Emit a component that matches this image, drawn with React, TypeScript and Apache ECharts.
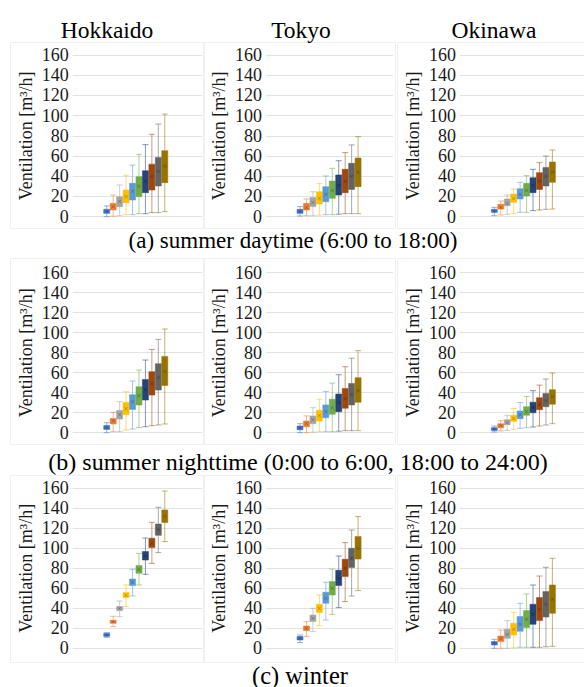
import React, { useEffect, useRef } from 'react';
import * as echarts from 'echarts';

const FONT = 'Liberation Serif';

const regions = ['Hokkaido', 'Tokyo', 'Okinawa'];
const captions = [
  '(a) summer daytime (6:00 to 18:00)',
  '(b) summer nighttime (0:00 to 6:00, 18:00 to 24:00)',
  '(c) winter',
];
const yAxisName = 'Ventilation [m³/h]';
const categories = ['1', '2', '3', '4', '5', '6', '7', '8', '9', '10'];
const boxColors = ['#4472C4', '#ED7D31', '#A5A5A5', '#FFC000', '#5B9BD5', '#70AD47', '#264478', '#9E480E', '#636363', '#997300'];

// [min, Q1, median, Q3, max]
const summerDayHokkaido = [
  [0, 3.3, 5, 7.3, 10.6], [0.5, 6.6, 10, 13.2, 21.5], [1, 9.9, 15, 19.8, 31.4], [2, 13.9, 20, 26.4, 41],
  [2, 16.5, 25, 33, 51], [3, 19.8, 30, 39.6, 61.7], [3, 23.8, 35, 45.5, 71.3], [4, 26.4, 40, 52, 81.5],
  [4, 30.4, 45, 58.7, 91.7], [5, 33.7, 50, 65.3, 101.6],
];
const summerDayTokyo = [
  [0.7, 3.3, 5, 7.3, 10], [1, 6.6, 9, 13.2, 17.5], [1, 10, 14, 19, 24.7], [1.5, 12.5, 18, 24.7, 33],
  [2, 14.9, 22, 29.7, 40.3], [2, 18.2, 26, 35.3, 47.9], [2.5, 21.5, 31, 41.3, 55.4], [3, 23.8, 35, 46.9, 63.4],
  [3, 27, 40, 52.8, 71], [3, 29.7, 44, 58, 79.2],
];
const summerDayOkinawa = [
  [1, 4.3, 5, 7.3, 9.2], [1.7, 7.6, 9, 12.2, 15.5], [2.3, 10.9, 13, 17.5, 21.5], [3.3, 14.2, 18, 22.4, 27.4],
  [4.3, 17.5, 22, 27.7, 34], [4.3, 20.5, 26, 33, 40.6], [6, 23.8, 31, 38.6, 46.9], [6.6, 27, 35, 43.6, 53.5],
  [7.3, 30.4, 40, 48.8, 60], [7.6, 34, 44, 54.1, 66],
];
const summerNightHokkaido = [
  [0, 3.3, 5.5, 7.3, 10], [1, 8.7, 12, 14.3, 20.3], [1, 13.7, 18, 22.3, 31], [2.7, 18.3, 24, 30.3, 41],
  [3.7, 23.3, 31, 38, 51.7], [5, 27.7, 37, 46, 62.7], [6, 32.7, 43, 53.3, 72.7], [7, 37.7, 49, 61, 83.3],
  [7.7, 42.7, 55, 69, 93.3], [8.7, 47.3, 61, 76.3, 103.7],
];
const summerNightTokyo = [
  [0, 3, 4.5, 6.7, 9], [0, 6, 9, 11.7, 16.8], [0.5, 9, 13, 16.8, 25], [1, 11.7, 17, 22.5, 33.5],
  [1, 15, 21, 27.8, 41.3], [1, 18.5, 25, 33.5, 49.6], [1.5, 21, 30, 38.6, 58], [2, 24.5, 34, 44.3, 66],
  [2, 27.8, 38, 49.3, 74.5], [2, 30.5, 42, 55, 82],
];
const summerNightOkinawa = [
  [0.7, 2.3, 3.7, 5, 6.7], [1.7, 5, 7, 9, 12], [2.3, 8, 10, 13, 17.5], [3.3, 11.4, 14, 17.5, 24.2],
  [4.4, 14, 18, 21.8, 30.2], [5, 17.5, 21, 26, 36.2], [5.7, 20, 25, 30.5, 42], [6.7, 23, 28, 35, 47.6],
  [7.7, 26, 32, 39.3, 53.7], [9, 28.5, 36, 43, 59.7],
];
const winterHokkaido = [
  [11, 12, 13.3, 14.7, 15.7], [21.7, 25, 26.5, 28, 32], [31.7, 37.7, 40, 41.7, 47.3], [41.7, 50.7, 53, 55.7, 63.3],
  [52.3, 62.7, 66, 69.3, 79], [63.3, 75, 79, 82.7, 95], [74, 88.3, 92, 96.7, 110.3], [85, 100.7, 105, 110, 126],
  [95.7, 113, 119, 124.3, 141], [106.7, 125.7, 132, 138.3, 157.3],
];
const winterTokyo = [
  [5.7, 8.3, 10, 11.7, 13.3], [11.7, 17.7, 20, 22.3, 26.7], [16.7, 26.7, 30, 33.3, 40], [22.7, 35.7, 40, 44, 53.3],
  [28.3, 45, 50, 56, 66], [34, 53.3, 60, 66.7, 79.3], [40.7, 62.7, 70, 78, 92.3], [46.7, 71.7, 80, 89, 105.7],
  [52.3, 80.7, 90, 100, 118.3], [57.7, 89.3, 100, 111.7, 131.7],
];
const winterOkinawa = [
  [0, 3.3, 5, 6.7, 9], [0, 6.7, 9.5, 12.3, 18.3], [0, 10, 14, 19, 27.7], [0.5, 13.3, 19, 25, 36],
  [1, 17, 24, 31.7, 45], [1, 20.7, 29, 37.7, 54.3], [1, 24, 34, 44, 63.3], [1, 27.7, 39, 50.7, 72.3],
  [1.5, 31.3, 44, 56.7, 81], [2, 35, 49, 63.3, 90],
];

const panelData = [
  [summerDayHokkaido, summerDayTokyo, summerDayOkinawa],
  [summerNightHokkaido, summerNightTokyo, summerNightOkinawa],
  [winterHokkaido, winterTokyo, winterOkinawa],
];

const yMin = 0;
const yMax = 160;
const yStep = 20;

// layout (pixels)
const plotLeft = [72.7, 266, 460];
const plotWidth = [129.5, 127, 124];
const boxLeft = [103.5, 296.8, 491.1];
const boxSpan = 64.5;
const plotTop = [55, 272.7, 488.3];
const plotHeight = [161.7, 160, 160];
const titleX = [107, 301, 494];
const captionPos = [[293, 240], [298, 462], [300, 675]];
const captionSize = [23, 24, 24.5];
const frameX = [[10, 203], [204, 395], [397, 590]];
const frameY = [[42, 228], [258, 444], [475, 662]];

function fade(hex: string, a: number) {
  const n = parseInt(hex.slice(1), 16);
  return `rgba(${(n >> 16) & 255},${(n >> 8) & 255},${n & 255},${a})`;
}

function buildOption() {
  const grid: any[] = [];
  const xAxis: any[] = [];
  const yAxis: any[] = [];
  const series: any[] = [];
  for (let r = 0; r < 3; r++) {
    for (let c = 0; c < 3; c++) {
      const bg = grid.length;
      grid.push({ left: plotLeft[c], top: plotTop[r], width: plotWidth[c], height: plotHeight[r], outerBoundsMode: 'none', containLabel: false });
      xAxis.push({ gridIndex: bg, type: 'category', data: [''], show: false });
      yAxis.push({
        gridIndex: bg, type: 'value', min: yMin, max: yMax, interval: yStep,
        axisLine: { show: false }, axisTick: { show: false },
        axisLabel: { fontFamily: FONT, fontSize: 18, color: '#1a1a1a', margin: 4 },
        splitLine: { show: true, lineStyle: { color: '#e2e2e2', width: 1 } },
        name: yAxisName, nameLocation: 'middle', nameGap: 38,
        nameTextStyle: { fontFamily: FONT, fontSize: 18, color: '#1a1a1a' },
      });
      const bx = grid.length;
      grid.push({ left: boxLeft[c], top: plotTop[r], width: boxSpan, height: plotHeight[r], outerBoundsMode: 'none', containLabel: false });
      xAxis.push({ gridIndex: bx, type: 'category', data: categories, show: false, boundaryGap: true });
      yAxis.push({ gridIndex: bx, type: 'value', min: yMin, max: yMax, interval: yStep, show: false, splitLine: { show: false } });
      const arr = panelData[r][c];
      series.push({
        type: 'boxplot', xAxisIndex: bx, yAxisIndex: bx, boxWidth: [6, 6], silent: true,
        data: arr.map((d, i) => ({ value: d, itemStyle: { color: boxColors[i], borderColor: fade(boxColors[i], 0.55), borderWidth: 1 } })),
      });
      series.push({
        type: 'scatter', xAxisIndex: bx, yAxisIndex: bx, silent: true, z: 5,
        symbol: 'path://M0 0L10 10M10 0L0 10', symbolSize: 3.5,
        itemStyle: { color: 'none', borderColor: 'rgba(0,0,0,0.35)', borderWidth: 0.8 },
        data: arr.map((d, i) => [categories[i], d[2]]),
      });
    }
  }
  const graphic: any[] = [];
  for (let r = 0; r < 3; r++) {
    for (let c = 0; c < 3; c++) {
      graphic.push({
        type: 'rect', silent: true, z: -1,
        shape: { x: frameX[c][0] + 0.5, y: frameY[r][0] + 0.5, width: frameX[c][1] - frameX[c][0], height: frameY[r][1] - frameY[r][0] },
        style: { fill: 'none', stroke: '#f0f0f0', lineWidth: 1 },
      });
    }
  }
  regions.forEach((t, c) => {
    graphic.push({ type: 'text', x: titleX[c], y: 30, style: { text: t, fontFamily: FONT, fontSize: 23.5, fill: '#000', align: 'center', verticalAlign: 'middle' } });
  });
  captions.forEach((t, r) => {
    graphic.push({ type: 'text', x: captionPos[r][0], y: captionPos[r][1], style: { text: t, fontFamily: FONT, fontSize: captionSize[r], fill: '#000', align: 'center', verticalAlign: 'middle' } });
  });
  return { animation: false, backgroundColor: '#fff', grid, xAxis, yAxis, series, graphic };
}

export default function App() {
  const ref = useRef<HTMLDivElement>(null);
  useEffect(() => {
    document.body.style.margin = '0';
    const chart = echarts.init(ref.current!, undefined, { renderer: 'svg' });
    chart.setOption(buildOption() as any);
    return () => chart.dispose();
  }, []);
  return <div ref={ref} style={{ width: 584, height: 687 }} />;
}
